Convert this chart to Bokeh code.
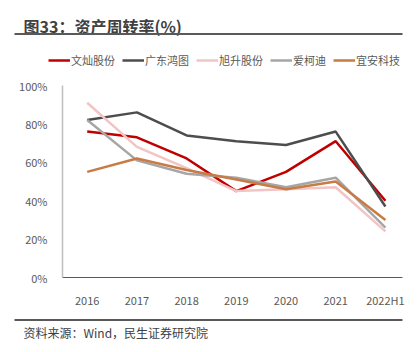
from bokeh.plotting import figure
from bokeh.models import Range1d, FixedTicker, Legend, LegendItem
from bokeh.core.properties import value
from bokeh.embed import file_html
from bokeh.resources import INLINE

categories = ["2016", "2017", "2018", "2019", "2020", "2021", "2022H1"]
wencan = [76, 73, 62, 45, 55, 71, 40]
hongtu = [82, 86, 74, 71, 69, 76, 37]
xusheng = [91, 68, 57, 45, 46, 47, 24]
aikedi = [82, 61, 54, 52, 47, 52, 26]
yian = [55, 62, 56, 51, 46, 50, 30]
series_names = ["文灿股份", "广东鸿图", "旭升股份", "爱柯迪", "宜安科技"]
y_ticks = [0, 20, 40, 60, 80, 100]
title_text = "图33：资产周转率(%)"
source_text = "资料来源：Wind，民生证券研究院"

colors = ["#C00000", "#4D4D4D", "#F2C4C4", "#A6A6A6", "#C77B45"]
FONT = "Noto Sans CJK SC"
W = 418
HEAD_H = 70
MAIN_H = 240
FOOT_H = 352 - HEAD_H - MAIN_H
FL, FT, FR, FB = 62, 85, 402, 281
series = [wencan, hongtu, xusheng, aikedi, yian]
x = list(range(len(categories)))


def blank_fig(h):
    f = figure(width=W, height=h, output_backend="svg", toolbar_location=None,
               x_range=Range1d(0, W), y_range=Range1d(h, 0),
               x_axis_location=None, y_axis_location=None,
               min_border=0, min_border_left=0, min_border_right=0,
               min_border_top=0, min_border_bottom=0)
    f.outline_line_color = None
    f.xgrid.grid_line_color = None
    f.ygrid.grid_line_color = None
    f.background_fill_color = "white"
    f.border_fill_color = "white"
    return f


# ---- header: title, rule, legend
head = blank_fig(HEAD_H)
head.text(x=[23], y=[25], text=[title_text], text_font=value(FONT), text_font_size="16px",
          text_font_style="bold", text_color="#404040", text_baseline="middle")
head.segment(x0=[14], y0=[33.5], x1=[402], y1=[33.5], line_color="#595959", line_width=2)
proxies = [head.line(x, vals, line_color=c, line_width=2.5, visible=False)
           for vals, c in zip(series, colors)]
legend = Legend(items=[LegendItem(label=n, renderers=[r]) for n, r in zip(series_names, proxies)],
                orientation="horizontal", location=(48, HEAD_H - 68),
                glyph_width=22, glyph_height=14, label_height=14, label_standoff=1,
                spacing=7, padding=0, margin=0,
                label_text_font=FONT, label_text_font_size="11px", label_text_color="#595959",
                border_line_color=None, background_fill_alpha=0)
head.add_layout(legend)

# ---- main chart
p = figure(width=W, height=MAIN_H, output_backend="svg", toolbar_location=None,
           x_range=Range1d(-0.497, 6.344), y_range=Range1d(0, 100),
           min_border_left=FL, min_border_right=W - FR,
           min_border_top=FT - HEAD_H, min_border_bottom=HEAD_H + MAIN_H - FB)
p.outline_line_color = None
p.background_fill_color = "white"
p.border_fill_color = "white"
p.xgrid.grid_line_color = None
p.ygrid.grid_line_color = None

for vals, c in zip(series, colors):
    p.line(x, vals, line_color=c, line_width=2.5)

p.xaxis.ticker = FixedTicker(ticks=x)
p.xaxis.major_label_overrides = {i: c for i, c in enumerate(categories)}
p.yaxis.ticker = FixedTicker(ticks=y_ticks)
p.yaxis.major_label_overrides = {v: f"{v}%" for v in y_ticks}
for ax in (p.xaxis, p.yaxis):
    ax.major_tick_line_color = None
    ax.minor_tick_line_color = None
    ax.major_label_text_font = FONT
    ax.major_label_text_font_size = "11px"
    ax.major_label_text_color = "#595959"
p.xaxis.axis_line_color = "#595959"
p.xaxis.axis_line_width = 1
p.yaxis.axis_line_color = "#BFBFBF"
p.yaxis.axis_line_width = 1.5
p.xaxis.major_label_standoff = 8
p.yaxis.major_label_standoff = 9

# ---- footer: rule + source
foot = blank_fig(FOOT_H)
off = HEAD_H + MAIN_H
foot.segment(x0=[14], y0=[319.5 - off], x1=[402], y1=[319.5 - off], line_color="#595959", line_width=2)
foot.text(x=[23], y=[332 - off], text=[source_text], text_font=value(FONT), text_font_size="12px",
          text_color="#404040", text_baseline="middle")

open("out.html", "w").write(file_html([head, p, foot], INLINE))
